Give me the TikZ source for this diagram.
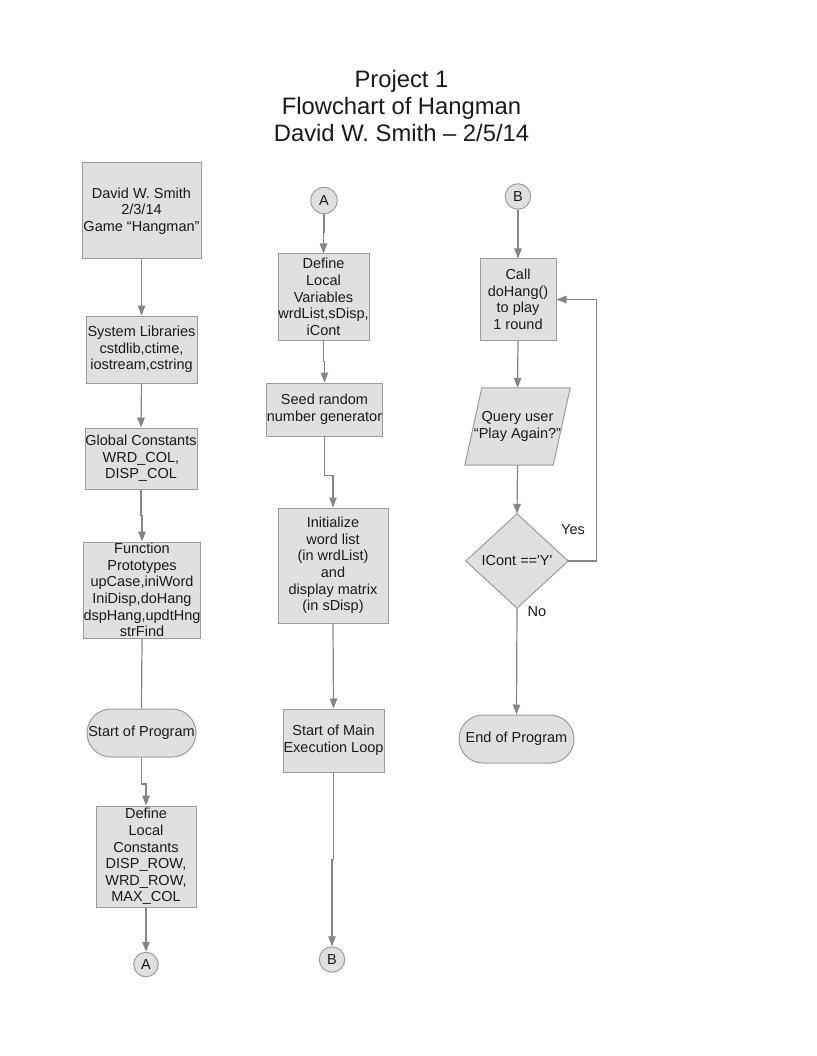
\documentclass[tikz,border=0pt]{standalone}
\usepackage{fontspec}
\setmainfont{Liberation Sans}
\usetikzlibrary{arrows.meta,calc}
\definecolor{boxfill}{HTML}{E0E0E0}
\definecolor{boxline}{HTML}{9C9C9C}
\definecolor{arrline}{HTML}{858585}
\definecolor{txt}{HTML}{1A1A1A}
\begin{document}
\begin{tikzpicture}[x=1pt,y=-1pt,
  every node/.style={font=\fontsize{14.5}{16.6}\selectfont, text=txt},
  proc/.style={draw=boxline, fill=boxfill, line width=1pt, inner sep=0pt, align=center},
  term/.style={proc, rounded corners=24pt},
  conn/.style={draw=boxline, fill=boxfill, line width=1pt, circle, inner sep=0pt, minimum size=25pt},
  holder/.style={inner sep=0pt},
  shapeline/.style={draw=boxline, fill=boxfill, line width=1pt},
  arr/.style={draw=arrline, line width=1.2pt, -{Triangle[length=10pt,width=7.5pt]}},
  ln/.style={draw=arrline, line width=1.2pt},
  titlefont/.style={font=\fontsize{23.8}{27}\selectfont, align=center}
]
\useasboundingbox (0,0) rectangle (816,1056);

% title
\node[titlefont] (title) at (401.5,106) {Project 1\\Flowchart of Hangman\\David W. Smith -- 2/5/14};

% column 1
\node[proc, minimum width=119, minimum height=96] (b1) at (141.5,211) {David W. Smith\\2/3/14\\Game “Hangman”};
\node[proc, minimum width=111, minimum height=67] (b2) at (141.5,349.5) {System Libraries\\cstdlib,ctime,\\iostream,cstring};
\node[proc, minimum width=112, minimum height=61] (b3) at (141,458.5) {Global Constants\\WRD\_COL,\\DISP\_COL};
\node[proc, minimum width=116, minimum height=96] (b4) at (142,590) {Function\\Prototypes\\upCase,iniWord\\IniDisp,doHang\\dspHang,updtHng\\strFind};
\node[term, minimum width=109, minimum height=48] (start) at (141.5,733) {Start of Program};
\node[proc, minimum width=100, minimum height=101] (b5) at (146,856.5) {Define\\Local\\Constants\\DISP\_ROW,\\WRD\_ROW,\\MAX\_COL};
\node[conn, minimum size=24.5] (a1) at (146,964.5) {A};

% column 2
\node[conn, minimum size=26.5] (a2) at (324,200.5) {A};
\node[proc, minimum width=91, minimum height=86] (v) at (323.5,297) {Define\\Local\\Variables\\wrdList,sDisp,\\iCont};
\node[proc, minimum width=111, minimum height=53] (seed) at (324.5,409.5) {Seed random\\number generator};
\node[proc, minimum width=110, minimum height=115] (init) at (333,565.5) {Initialize\\word list\\(in wrdList)\\and\\display matrix\\(in sDisp)};
\node[proc, minimum width=101, minimum height=63] (mainl) at (333.5,740.5) {Start of Main\\Execution Loop};
\node[conn, minimum size=25.5] (b1c) at (332,959.5) {B};

% column 3
\node[conn, minimum size=25.5] (b2c) at (518,196.5) {B};
\node[proc, minimum width=76, minimum height=81] (call) at (518,299.5) {Call\\doHang()\\to play\\1 round};
\node[holder, minimum width=105, minimum height=77] (query) at (517.5,426.5) {};
\draw[shapeline] (query.south west) -- ($(query.north west)+(17,0)$) -- (query.north east) -- ($(query.south east)+(-17,0)$) -- cycle;
\node[align=center] (querytxt) at (query.center) {Query user\\“Play Again?”};
\node[holder, minimum width=102, minimum height=94] (dia) at (517,561) {};
\draw[shapeline] (dia.north) -- (dia.east) -- (dia.south) -- (dia.west) -- cycle;
\node (diatxt) at (dia.center) {ICont ==\textquotesingle Y\textquotesingle};
\node[term, minimum width=115, minimum height=48] (endp) at (516.5,739) {End of Program};

% connectors column 1
\draw[arr] (b1.south) -- (b2.north);
\draw[arr] (b2.south) -- (b3.north);
\draw[arr] (b3.south) |- ($(b3.south)!0.5!(b4.north)$) -| (b4.north);
\draw[ln] (b4.south) -- (start.north);
\draw[arr] (start.south) |- ($(start.south)!0.55!(b5.north)$) -| (b5.north);
\draw[arr] (b5.south) -- (a1.north);

% connectors column 2
\draw[arr] (a2.south) |- ($(a2.south)!0.45!(v.north)$) -| (v.north);
\draw[arr] (v.south) |- ($(v.south)!0.5!(seed.north)$) -| (seed.north);
\draw[arr] (seed.south) |- ($(seed.south)!0.55!(init.north)$) -| (init.north);
\draw[arr] (init.south) -- (mainl.north);
\draw[arr] (mainl.south) |- ($(mainl.south)!0.5!(b1c.north)$) -| (b1c.north);

% connectors column 3
\draw[arr] (b2c.south) -- (call.north);
\draw[arr] (call.south) -- (query.north);
\draw[arr] (query.south) -- (dia.north);
\draw[arr] (dia.east) -- ++(28,0) coordinate (loopc) |- (call.east);
\draw[arr] (dia.south) -- (endp.north);
\node (yes) at (573,530) {Yes};
\node (no) at (537,612) {No};
\end{tikzpicture}
\end{document}
